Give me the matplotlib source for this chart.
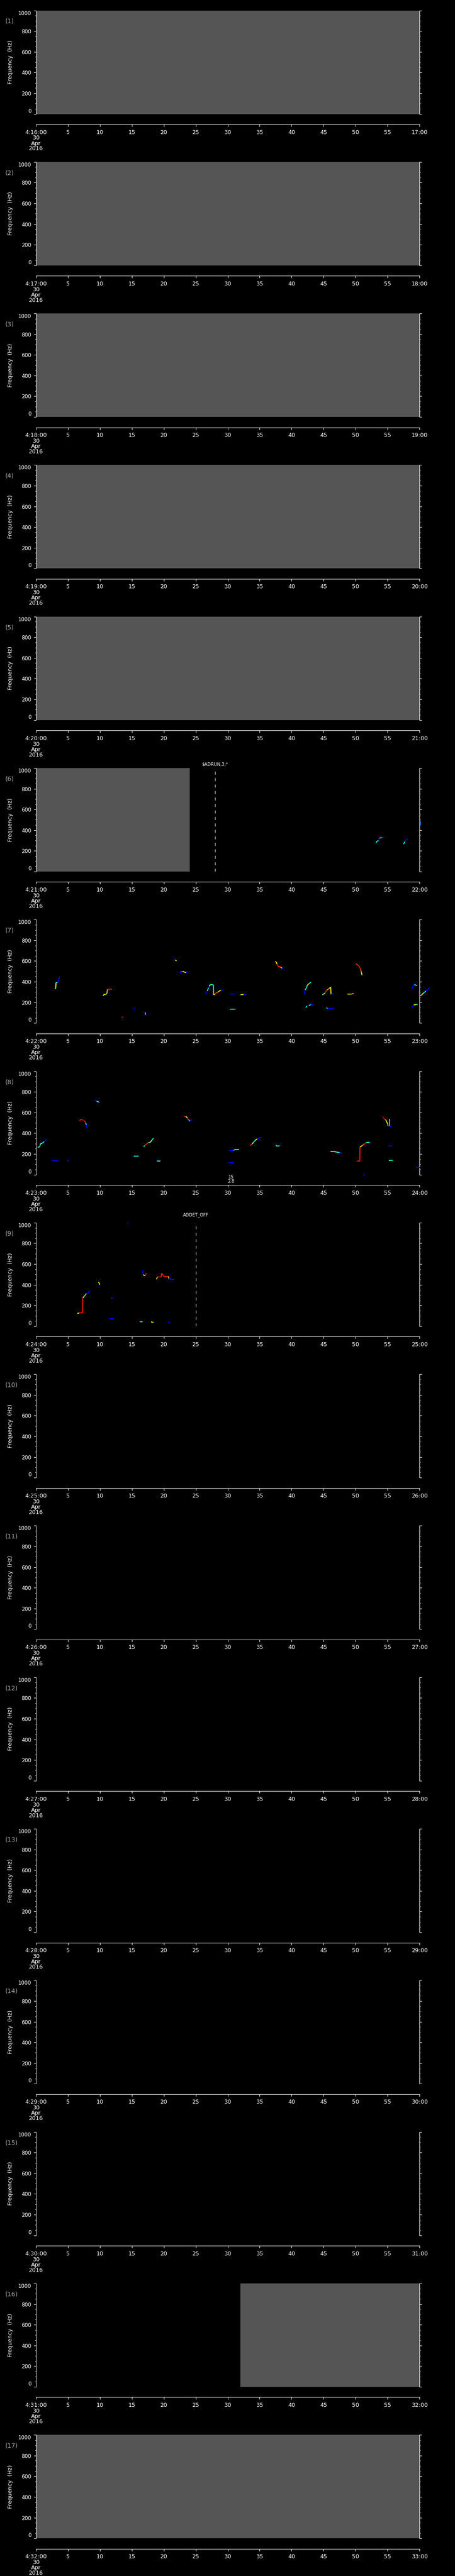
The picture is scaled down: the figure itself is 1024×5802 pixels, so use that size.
import numpy as np
import matplotlib
matplotlib.use("Agg")
import matplotlib.pyplot as plt
from matplotlib.collections import LineCollection
from matplotlib.colors import Normalize
from matplotlib.ticker import MultipleLocator
from matplotlib.transforms import blended_transform_factory

# ---------------------------------------------------------------- DATA
N_PANELS = 17
START_MIN = 16                      # panel 1 begins at 4:16:00, 30 Apr 2016
DATE_LINES = ["30", "Apr", "2016"]
FREQ_TICKS = [0, 200, 400, 600, 800, 1000]
SEC_TICKS = list(range(0, 61, 5))

# gray "no data" spans per panel (seconds into the minute)
GRAY_SPANS = {1: (0, 60), 2: (0, 60), 3: (0, 60), 4: (0, 60), 5: (0, 60),
              6: (0, 24.05), 16: (31.95, 60), 17: (0, 60)}

# dashed event markers per panel: (seconds, label)
EVENTS = {6: (28.0, "$ADRUN,3,*"), 9: (25.0, "ADDET_OFF")}

# small annotation under panel 8
NOTE_8_T = 30.55
NOTE_8_LINES = ["15", "2.8"]

# intensity levels (jet colormap positions)
B, LB, C, G, Y, O, R, DR = 0.11, 0.24, 0.38, 0.5, 0.64, 0.76, 0.88, 0.96

# frequency traces: lists of (seconds, Hz, intensity)
TRACES_6 = [
    [(53.2, 278, B), (53.3, 292, C), (53.6, 300, C), (53.7, 322, B), (53.9, 326, O), (54.1, 330, C), (54.4, 330, B)],
    [(57.5, 265, B), (57.7, 290, C), (57.85, 305, B), (58.1, 317, B)],
    [(60.1, 445, LB), (60.1, 485, LB)],
]
TRACES_7 = [
    [(3.0, 330, C), (3.1, 335, C), (3.15, 390, Y), (3.4, 395, C), (3.5, 400, B), (3.7, 450, B)],
    [(10.55, 262, C), (10.6, 275, C), (10.9, 277, Y), (11.1, 285, Y), (11.2, 325, G), (11.5, 327, R), (11.9, 327, R)],
    [(13.45, 59, R), (13.6, 59, R)],
    [(15.3, 142, B), (15.45, 142, B)],
    [(17.1, 103, C), (17.15, 80, C), (17.35, 77, B)],
    [(21.65, 622, B), (21.8, 610, B), (22.0, 600, Y)],
    [(22.6, 480, C), (22.7, 500, B), (23.0, 500, R), (23.3, 490, Y), (23.5, 488, Y), (23.7, 500, B)],
    [(26.55, 278, B), (26.8, 310, B), (27.0, 340, C), (27.1, 355, B), (27.3, 372, Y), (27.6, 370, C),
     (27.77, 370, C), (27.8, 272, C), (28.0, 280, Y), (28.3, 295, R), (28.6, 305, O), (28.9, 318, Y), (29.36, 318, B)],
    [(30.5, 278, B), (31.1, 278, B)],
    [(32.0, 274, C), (32.5, 276, Y), (32.9, 276, B)],
    [(30.3, 136, C), (31.2, 136, C)],
    [(37.4, 594, C), (37.6, 590, C), (37.7, 570, Y), (37.8, 555, R), (38.0, 545, R), (38.3, 540, O), (38.5, 530, C), (38.65, 530, B)],
    [(41.95, 278, B), (42.1, 320, B), (42.3, 340, C), (42.5, 372, C), (42.7, 380, Y), (43.0, 395, C)],
    [(42.2, 150, B), (42.4, 165, C), (42.7, 170, B), (43.0, 178, C), (43.5, 172, B)],
    [(44.8, 272, Y), (45.2, 290, G), (45.5, 318, R), (45.9, 335, O), (46.1, 348, Y), (46.15, 278, Y), (46.6, 278, B)],
    [(45.45, 150, B), (45.6, 140, C), (46.6, 138, B)],
    [(48.7, 278, C), (49.2, 278, Y), (49.7, 287, O)],
    [(50.0, 575, B), (50.3, 565, R), (50.6, 545, R), (50.8, 515, R), (50.9, 490, O), (51.0, 465, Y), (51.2, 455, B)],
    [(58.8, 330, B), (59.0, 360, B), (59.2, 372, B), (59.6, 362, C)],
    [(58.8, 150, B), (59.1, 175, B), (59.5, 180, Y), (59.7, 180, C)],
    [(60.0, 262, B), (60.3, 270, C), (60.6, 290, Y), (61.0, 310, C), (61.6, 340, B)],
]
TRACES_8 = [
    [(0.27, 265, B), (0.6, 267, C), (0.7, 295, C), (1.0, 305, Y), (1.3, 318, C), (1.72, 341, B)],
    [(2.5, 136, C), (3.5, 136, B)],
    [(4.95, 136, B), (5.1, 136, B)],
    [(6.8, 522, R), (7.0, 530, R), (7.3, 530, R), (7.6, 520, DR), (7.8, 500, R), (7.9, 480, C), (8.05, 445, B)],
    [(9.2, 720, B), (9.5, 710, B), (9.9, 700, C)],
    [(15.3, 179, C), (16.1, 179, C)],
    [(16.86, 268, B), (17.0, 280, C), (17.3, 295, R), (17.6, 310, R), (17.9, 312, C), (18.1, 330, Y), (18.4, 352, C)],
    [(18.9, 132, C), (19.5, 132, C)],
    [(23.25, 562, C), (23.5, 562, R), (23.7, 545, Y), (23.9, 530, R), (24.1, 515, C), (24.4, 530, B)],
    [(30.27, 234, B), (30.9, 234, B), (31.2, 244, C), (31.8, 244, C)],
    [(30.1, 115, B), (30.9, 117, B)],
    [(33.5, 280, B), (33.8, 295, R), (34.0, 310, Y), (34.3, 330, C), (34.6, 345, Y), (35.2, 360, B)],
    [(37.5, 285, C), (37.7, 275, C), (38.1, 278, C), (38.3, 285, B)],
    [(46.1, 222, B), (46.6, 222, Y), (47.0, 218, Y), (47.5, 212, C), (47.9, 205, B)],
    [(50.2, 130, B), (50.65, 132, R), (50.68, 265, R), (51.0, 280, Y), (51.3, 292, O), (51.66, 310, R), (52.2, 312, C)],
    [(54.2, 566, R), (54.4, 540, DR), (54.7, 530, R), (54.9, 505, Y), (55.0, 490, Y), (55.1, 470, C)],
    [(55.3, 537, B), (55.3, 470, C), (55.5, 460, B)],
    [(55.2, 279, C), (55.7, 279, B)],
    [(55.2, 136, B), (55.8, 138, C)],
    [(59.5, 72, B), (60.1, 68, B)],
    [(51.25, -3, B), (51.4, -3, B)],
]
TRACES_9 = [
    [(6.5, 123, Y), (6.8, 127, Y), (7.3, 127, R), (7.35, 273, R), (7.6, 290, Y), (7.9, 316, C), (8.2, 320, B), (8.45, 345, B)],
    [(9.8, 428, Y), (10.0, 400, Y), (10.0, 395, B)],
    [(11.7, 270, C), (12.1, 273, B)],
    [(11.6, 73, C), (12.1, 73, B)],
    [(14.3, 1000, B), (14.5, 1000, B)],
    [(16.7, 538, B), (16.8, 500, B), (16.9, 488, C), (17.1, 488, Y), (17.2, 505, R), (17.35, 505, R)],
    [(18.87, 452, Y), (19.0, 476, Y), (19.6, 476, R), (19.65, 512, R), (20.05, 480, R), (20.75, 480, R),
     (20.8, 452, Y), (20.9, 475, B), (21.0, 452, B), (21.6, 452, B)],
    [(16.3, 41, C), (16.7, 41, C)],
    [(18.0, 41, Y), (18.4, 36, Y)],
    [(20.6, 36, B), (21.0, 34, B)],
]
TRACES = {6: TRACES_6, 7: TRACES_7, 8: TRACES_8, 9: TRACES_9}

# ---------------------------------------------------------------- LAYOUT (pixels)
W_PX, H_PX, DPI = 1024, 5802, 100
PANEL_H = H_PX / N_PANELS
AX_L, AX_R, AX_T, AX_B = 80.7, 944.3, 23.5, 256.5
TIME_Y = 280.0
GRAY = "#555555"
LABEL_GRAY = "#a8a8a8"
LW = 0.8

plt.rcParams["font.family"] = "DejaVu Sans"
fig = plt.figure(figsize=(W_PX / DPI, H_PX / DPI), dpi=DPI, facecolor="black")
norm = Normalize(0, 1)


def fy(px):
    return 1 - px / H_PX


for i in range(N_PANELS):
    n = i + 1
    off = i * PANEL_H
    ax = fig.add_axes([AX_L / W_PX, fy(off + AX_B), (AX_R - AX_L) / W_PX, (AX_B - AX_T) / H_PX])
    ax.set_facecolor("black")
    ax.set_xlim(0, 60)
    ax.set_ylim(0, 1000)
    for s in ["top", "bottom"]:
        ax.spines[s].set_visible(False)
    for s in ["left", "right"]:
        ax.spines[s].set_color("white")
        ax.spines[s].set_linewidth(LW)
    ax.set_xticks([])
    ax.set_yticks(FREQ_TICKS, [str(v) for v in FREQ_TICKS])
    ax.yaxis.set_minor_locator(MultipleLocator(50))
    ax.tick_params(axis="y", which="both", direction="out", left=True, right=True,
                   labelleft=True, labelright=False, colors="white", width=LW)
    ax.tick_params(axis="y", which="major", length=3.4, labelsize=8.5, pad=4)
    ax.tick_params(axis="y", which="minor", length=1.6)
    ylabs = ax.get_yticklabels()
    ylabs[0].set_verticalalignment("bottom")
    ylabs[-1].set_verticalalignment("top")

    ax.text(-0.0668, 0.5, "Frequency  (Hz)", transform=ax.transAxes, rotation=90,
            ha="center", va="center", color="white", fontsize=9)
    ax.text(-0.0795, 0.895, f"({n})", transform=ax.transAxes, ha="left", va="center",
            color=LABEL_GRAY, fontsize=10)

    if n in GRAY_SPANS:
        a, b = GRAY_SPANS[n]
        ax.axvspan(a, b, color=GRAY, lw=0, zorder=1)

    if n in EVENTS:
        t, lab = EVENTS[n]
        ax.axvline(t, color="white", lw=0.7, dashes=(7, 8), zorder=2)
        ylab = 1.036 if n == 6 else 1.074
        ax.text(t, ylab, lab, transform=blended_transform_factory(ax.transData, ax.transAxes),
                ha="center", va="center", color="white", fontsize=7)

    for tr in TRACES.get(n, []):
        arr = np.array(tr, dtype=float)
        pts = arr[:, :2]
        if len(pts) < 2:
            continue
        segs = np.stack([pts[:-1], pts[1:]], axis=1)
        lc = LineCollection(segs, cmap="jet", norm=norm, linewidths=1.5, clip_on=False, zorder=3)
        lc.set_array(arr[1:, 2])
        ax.add_collection(lc)

    if n == 8:
        tb = blended_transform_factory(ax.transData, fig.transFigure)
        for k, s in enumerate(NOTE_8_LINES):
            ax.text(NOTE_8_T, fy(off + 262 + 10 * k), s, transform=tb, ha="center", va="center",
                    color="white", fontsize=7)

    # separate time axis below each panel
    tax = fig.add_axes([AX_L / W_PX, fy(off + TIME_Y), (AX_R - AX_L) / W_PX, 1e-5])
    tax.patch.set_visible(False)
    tax.set_xlim(0, 60)
    labels = [f"4:{START_MIN + i}:00"] + [str(s) for s in SEC_TICKS[1:-1]] + [f"{START_MIN + i + 1}:00"]
    tax.set_xticks(SEC_TICKS, labels)
    tax.set_yticks([])
    for s in ["top", "left", "right"]:
        tax.spines[s].set_visible(False)
    tax.spines["bottom"].set_color("white")
    tax.spines["bottom"].set_linewidth(LW)
    tax.tick_params(axis="x", direction="out", length=3.8, width=LW, colors="white",
                    labelsize=9.2, pad=4.5)
    tb = blended_transform_factory(tax.transData, fig.transFigure)
    for k, s in enumerate(DATE_LINES):
        tax.text(0, fy(off + 311 + 12 * k), s, transform=tb, ha="center", va="center",
                 color="white", fontsize=9.2)

fig.savefig("out.png", dpi=DPI, facecolor="black")
